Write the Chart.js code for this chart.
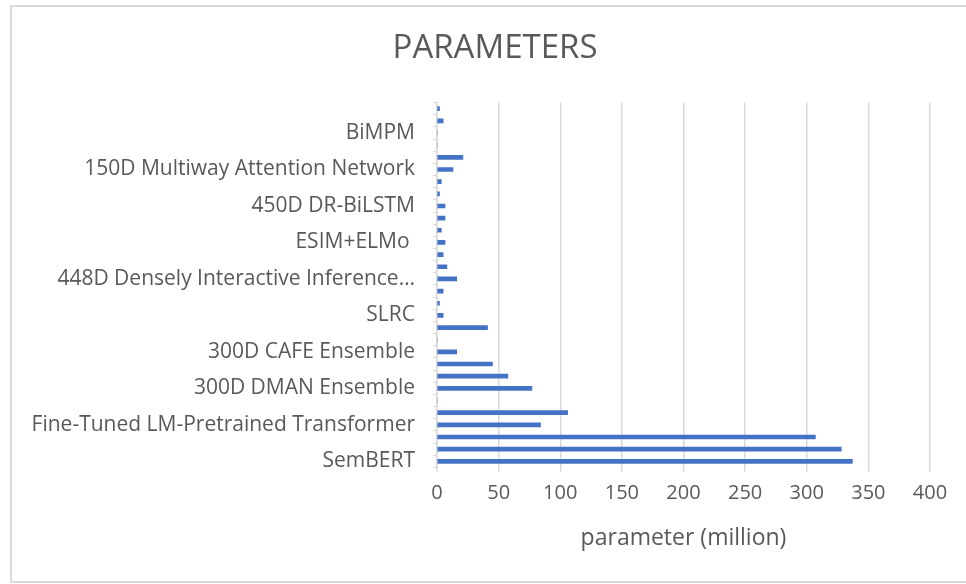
<!DOCTYPE html>
<html>
<head>
<meta charset="utf-8">
<script src="https://cdn.jsdelivr.net/npm/chart.js@4/dist/chart.umd.min.js"></script>
<style>
  html, body { margin: 0; padding: 0; background: #fff; overflow: hidden; }
  .box {
    position: absolute; left: 10px; top: 5px; width: 970px; height: 578px;
    border: 2px solid #d9d9d9; box-sizing: border-box;
  }
  canvas { display: block; }
</style>
</head>
<body>
<div class="box"><canvas id="chart" width="966" height="574"></canvas></div>
<script>
// bottom to top, only every third model name is printed in the original
var models = [
  'SemBERT', '', '',
  'Fine-Tuned LM-Pretrained Transformer', '', '',
  '300D DMAN Ensemble', '', '',
  '300D CAFE Ensemble', '', '',
  'SLRC', '', '',
  '448D Densely Interactive Inference\u2026', '', '',
  'ESIM+ELMo ', '', '',
  '450D DR-BiLSTM', '', '',
  '150D Multiway Attention Network', '', '',
  'BiMPM', '', ''
];
var params = [
  337, 328, 307,
  84, 106, 0,
  77, 57.5, 45,
  16, 0, 41,
  5, 2, 5,
  16, 8, 5,
  6.5, 3.5, 6.5,
  6.5, 2, 3.5,
  13, 21, 0,
  0, 5, 2
];
var xTicks = [0, 50, 100, 150, 200, 250, 300, 350, 400];

var txt = '#595959';
var grid = '#d9d9d9';
var font = 'Open Sans';

new Chart(document.getElementById('chart'), {
  type: 'bar',
  data: {
    labels: models,
    datasets: [{
      label: 'parameter',
      data: params,
      backgroundColor: '#4472c4',
      barThickness: 4
    }]
  },
  options: {
    indexAxis: 'y',
    responsive: false,
    animation: false,
    layout: { padding: 0 },
    plugins: {
      legend: { display: false },
      tooltip: { enabled: false },
      title: {
        display: true,
        text: 'PARAMETERS',
        color: txt,
        font: { family: font, size: 33, weight: 'normal' },
        padding: { top: 22, bottom: 34 }
      }
    },
    scales: {
      x: {
        min: 0,
        max: 400,
        afterBuildTicks: function (s) { s.ticks = xTicks.map(function (v) { return { value: v }; }); },
        afterFit: function (s) { s.paddingRight = 48; },
        grid: { color: grid, lineWidth: 1.5, tickLength: 4 },
        border: { display: false },
        ticks: { color: txt, font: { family: font, size: 20 }, padding: 10, maxRotation: 0 },
        title: {
          display: true,
          text: 'parameter (million)',
          color: txt,
          font: { family: font, size: 23 },
          padding: { top: 9, bottom: 29 }
        }
      },
      y: {
        reverse: true,
        afterFit: function (s) { s.width = 425; },
        grid: { drawOnChartArea: false, color: grid, tickLength: 4, offset: true },
        border: { color: grid, width: 1.5 },
        ticks: { color: txt, font: { family: font, size: 21 }, padding: 18, autoSkip: false }
      }
    }
  }
});
</script>
</body>
</html>
